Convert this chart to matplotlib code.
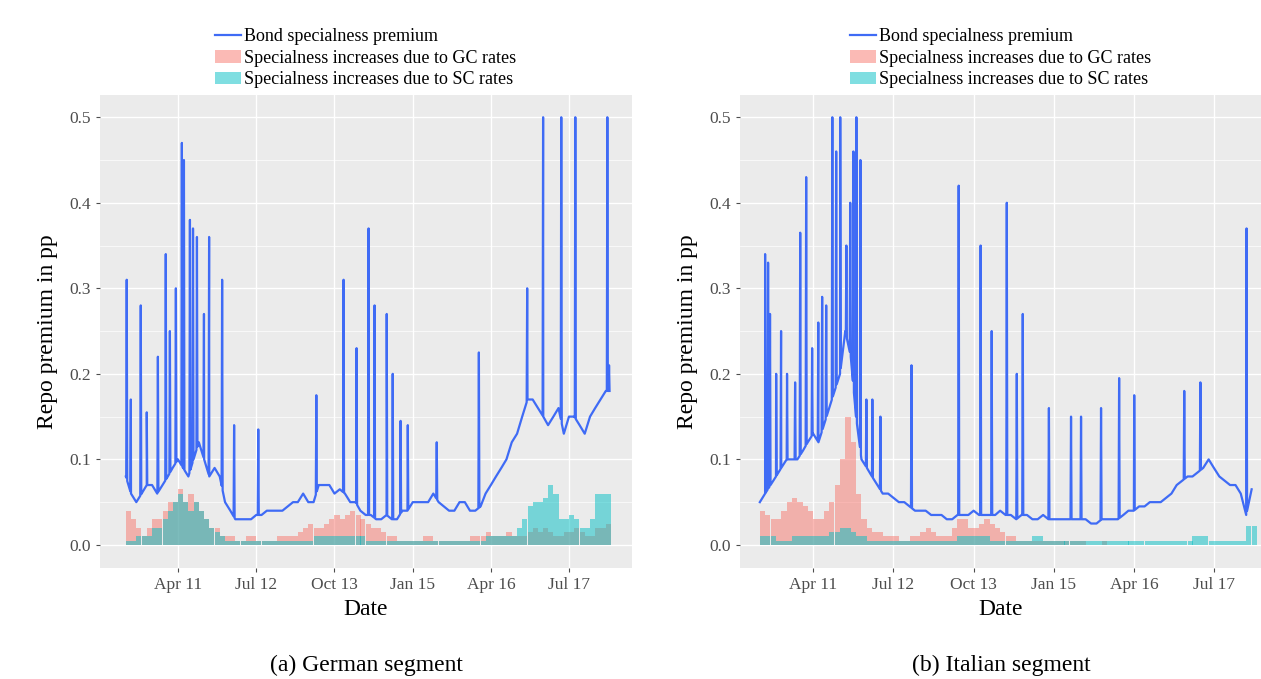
import matplotlib.pyplot as plt
import matplotlib.dates as mdates
import numpy as np
import pandas as pd

plt.rcParams['font.family'] = ['Liberation Serif', 'DejaVu Serif']

LINE = '#3F6BF5'
GC = '#F8766D'
SC = '#00BFC4'

# ---- German segment ----
de_base_months = pd.date_range('2010-06-01', '2018-02-01', freq='MS')
de_base = [0.08, 0.06, 0.05, 0.06, 0.07, 0.07, 0.06,
           0.07, 0.08, 0.09, 0.10, 0.09, 0.08, 0.10, 0.12, 0.10, 0.08, 0.09, 0.08,
           0.05, 0.04, 0.03, 0.03, 0.03, 0.03, 0.035, 0.035, 0.04, 0.04, 0.04, 0.04,
           0.045, 0.05, 0.05, 0.06, 0.05, 0.05, 0.07, 0.07, 0.07, 0.06, 0.065, 0.06,
           0.05, 0.05, 0.04, 0.035, 0.035, 0.03, 0.03, 0.035, 0.03, 0.03, 0.04, 0.04,
           0.05, 0.05, 0.05, 0.05, 0.06, 0.05, 0.045, 0.04, 0.04, 0.05, 0.05, 0.04,
           0.04, 0.045, 0.06, 0.07, 0.08, 0.09, 0.10, 0.12, 0.13, 0.15, 0.17, 0.17,
           0.16, 0.15, 0.14, 0.15, 0.16, 0.13, 0.15, 0.15, 0.14, 0.13, 0.15, 0.16,
           0.17, 0.18]
de_spike_dates = ['2010-06-06', '2010-06-30', '2010-08-27', '2010-10-01', '2010-12-05',
                  '2011-01-20', '2011-02-13', '2011-03-20', '2011-04-24', '2011-05-06',
                  '2011-06-10', '2011-06-28', '2011-07-21', '2011-08-31', '2011-09-30',
                  '2011-12-15', '2012-02-23', '2012-07-13', '2013-06-17', '2013-11-23',
                  '2014-02-07', '2014-04-18', '2014-05-23', '2014-08-02', '2014-09-06',
                  '2014-10-22', '2014-12-03', '2015-05-21', '2016-01-22', '2016-10-30',
                  '2017-01-31', '2017-05-17', '2017-08-07', '2018-02-10', '2018-02-20']
de_spike_vals = [0.31, 0.17, 0.28, 0.155, 0.22, 0.34, 0.25, 0.30, 0.47, 0.45,
                 0.38, 0.37, 0.36, 0.27, 0.36, 0.31, 0.14, 0.135, 0.175, 0.31,
                 0.23, 0.37, 0.28, 0.27, 0.20, 0.145, 0.14, 0.12, 0.225, 0.30,
                 0.50, 0.50, 0.50, 0.50, 0.21]
de_gc = [0.04, 0.03, 0.02, 0.01, 0.02, 0.03, 0.03,
         0.04, 0.05, 0.05, 0.065, 0.05, 0.06, 0.05, 0.04, 0.03, 0.02, 0.02, 0.01,
         0.01, 0.01, 0.005, 0.005, 0.01, 0.01, 0.005, 0.005, 0.005, 0.005, 0.01, 0.01,
         0.01, 0.01, 0.015, 0.02, 0.025, 0.02, 0.02, 0.025, 0.03, 0.035, 0.03, 0.035,
         0.04, 0.035, 0.03, 0.025, 0.02, 0.02, 0.015, 0.01, 0.01, 0.005, 0.005, 0.005,
         0.005, 0.005, 0.01, 0.01, 0.005, 0.005, 0.005, 0.005, 0.005, 0.005, 0.005, 0.01,
         0.01, 0.01, 0.015, 0.01, 0.01, 0.01, 0.015, 0.01, 0.01, 0.01, 0.015, 0.02,
         0.015, 0.02, 0.015, 0.01, 0.01, 0.015, 0.015, 0.02, 0.015, 0.01, 0.01, 0.02,
         0.02, 0.025]
de_sc = [0.005, 0.005, 0.01, 0.01, 0.01, 0.02, 0.02,
         0.03, 0.04, 0.05, 0.06, 0.05, 0.04, 0.05, 0.04, 0.03, 0.02, 0.015, 0.01,
         0.005, 0.005, 0.005, 0.005, 0.005, 0.005, 0.005, 0.005, 0.005, 0.005, 0.005, 0.005,
         0.005, 0.005, 0.005, 0.005, 0.005, 0.01, 0.01, 0.01, 0.01, 0.01, 0.01, 0.01,
         0.01, 0.01, 0.01, 0.005, 0.005, 0.005, 0.005, 0.005, 0.005, 0.005, 0.005, 0.005,
         0.005, 0.005, 0.005, 0.005, 0.005, 0.005, 0.005, 0.005, 0.005, 0.005, 0.005, 0.005,
         0.005, 0.005, 0.01, 0.01, 0.01, 0.01, 0.01, 0.01, 0.02, 0.03, 0.045, 0.05,
         0.05, 0.055, 0.07, 0.06, 0.03, 0.03, 0.035, 0.03, 0.02, 0.02, 0.03, 0.06,
         0.06, 0.06]

# ---- Italian segment ----
it_base_months = pd.date_range('2010-06-01', '2018-02-01', freq='MS')
it_base = [0.05, 0.06, 0.07, 0.08, 0.09, 0.10, 0.10,
           0.10, 0.11, 0.12, 0.13, 0.12, 0.14, 0.16, 0.18, 0.20, 0.25, 0.22, 0.15,
           0.10, 0.09, 0.08, 0.07, 0.06, 0.06, 0.055, 0.05, 0.05, 0.045, 0.04, 0.04,
           0.04, 0.035, 0.035, 0.035, 0.03, 0.03, 0.035, 0.035, 0.035, 0.04, 0.035, 0.035,
           0.035, 0.035, 0.04, 0.035, 0.035, 0.03, 0.035, 0.035, 0.03, 0.03, 0.035, 0.03,
           0.03, 0.03, 0.03, 0.03, 0.03, 0.03, 0.03, 0.025, 0.025, 0.03, 0.03, 0.03,
           0.03, 0.035, 0.04, 0.04, 0.045, 0.045, 0.05, 0.05, 0.05, 0.055, 0.06, 0.07,
           0.075, 0.08, 0.08, 0.085, 0.09, 0.10, 0.09, 0.08, 0.075, 0.07, 0.07, 0.06,
           0.035, 0.065]
it_spike_dates = ['2010-07-01', '2010-07-18', '2010-07-29', '2010-09-02', '2010-09-30',
                  '2010-11-03', '2010-12-19', '2011-01-17', '2011-02-20', '2011-03-26',
                  '2011-04-30', '2011-05-22', '2011-06-14', '2011-07-19', '2011-08-10',
                  '2011-09-02', '2011-10-07', '2011-10-29', '2011-11-16', '2011-12-03',
                  '2011-12-26', '2012-01-29', '2012-03-03', '2012-04-18', '2012-10-12',
                  '2013-07-08', '2013-11-10', '2014-01-12', '2014-04-08', '2014-06-04',
                  '2014-07-08', '2014-12-04', '2015-04-09', '2015-06-05', '2015-09-27',
                  '2016-01-08', '2016-04-03', '2017-01-13', '2017-04-15', '2018-01-03']
it_spike_vals = [0.34, 0.33, 0.27, 0.20, 0.25, 0.20, 0.19, 0.365, 0.43, 0.23,
                 0.26, 0.29, 0.28, 0.50, 0.46, 0.50, 0.35, 0.40, 0.46, 0.50,
                 0.45, 0.17, 0.17, 0.15, 0.21, 0.42, 0.35, 0.25, 0.40, 0.20,
                 0.27, 0.16, 0.15, 0.15, 0.16, 0.195, 0.175, 0.18, 0.19, 0.37]
it_gc = [0.04, 0.035, 0.03, 0.03, 0.04, 0.05, 0.055,
         0.05, 0.045, 0.04, 0.03, 0.03, 0.04, 0.05, 0.07, 0.10, 0.15, 0.12, 0.06,
         0.03, 0.02, 0.015, 0.015, 0.01, 0.01, 0.01, 0.005, 0.005, 0.01, 0.01, 0.015,
         0.02, 0.015, 0.01, 0.01, 0.01, 0.02, 0.03, 0.03, 0.02, 0.02, 0.025, 0.03,
         0.025, 0.02, 0.015, 0.01, 0.01, 0.005, 0.005, 0.005, 0.005, 0.005, 0.005, 0.005,
         0.005, 0.005, 0.005, 0.005, 0.005, 0.005, 0.0, 0.0, 0.0, 0.005, 0.0, 0.0,
         0.0, 0.0, 0.0, 0.0, 0.0, 0.0, 0.0, 0.0, 0.0, 0.0, 0.0, 0.0,
         0.0, 0.0, 0.0, 0.0, 0.0, 0.0, 0.0, 0.0, 0.0, 0.0, 0.0, 0.0,
         0.0, 0.0]
it_sc = [0.01, 0.01, 0.01, 0.005, 0.005, 0.005, 0.01,
         0.01, 0.01, 0.01, 0.01, 0.01, 0.01, 0.015, 0.015, 0.02, 0.02, 0.015, 0.01,
         0.01, 0.005, 0.005, 0.005, 0.005, 0.005, 0.005, 0.005, 0.005, 0.005, 0.005, 0.005,
         0.005, 0.005, 0.005, 0.005, 0.005, 0.005, 0.01, 0.01, 0.01, 0.01, 0.01, 0.01,
         0.005, 0.005, 0.005, 0.005, 0.005, 0.005, 0.005, 0.005, 0.01, 0.01, 0.005, 0.005,
         0.005, 0.005, 0.005, 0.005, 0.005, 0.005, 0.005, 0.005, 0.005, 0.005, 0.005, 0.005,
         0.005, 0.005, 0.005, 0.005, 0.005, 0.005, 0.005, 0.005, 0.005, 0.005, 0.005, 0.005,
         0.005, 0.005, 0.01, 0.01, 0.01, 0.005, 0.005, 0.005, 0.005, 0.005, 0.005, 0.005,
         0.022, 0.022]


def build_line(months, base, sdates, svals):
    sd = pd.to_datetime(sdates)
    bx = mdates.date2num(months)
    pts = list(zip(bx, base))
    for d, v in zip(sd, svals):
        c = mdates.date2num(d)
        for off, val in ((-3, None), (0, v), (3, None)):
            x = c + off
            pts.append((x, np.interp(x, bx, base) if val is None else val))
    pts.sort()
    return [p[0] for p in pts], [p[1] for p in pts]


def panel(ax, months, base, sdates, svals, gc, sc, xlim, caption):
    ax.set_facecolor('#EBEBEB')
    ax.grid(True, color='white', linewidth=1.0)
    ax.grid(True, which='minor', color='white', linewidth=0.5)
    ax.set_axisbelow(True)
    for s in ax.spines.values():
        s.set_visible(False)
    x = mdates.date2num(months)
    ax.bar(x, gc, width=30, align='edge', color=GC, alpha=0.5, linewidth=0,
           label='Specialness increases due to GC rates')
    ax.bar(x, sc, width=30, align='edge', color=SC, alpha=0.5, linewidth=0,
           label='Specialness increases due to SC rates')
    lx, ly = build_line(months, base, sdates, svals)
    ax.plot(lx, ly, color=LINE, linewidth=1.6, label='Bond specialness premium')
    ax.set_xlim(mdates.date2num(pd.to_datetime(xlim[0])), mdates.date2num(pd.to_datetime(xlim[1])))
    ax.set_ylim(-0.027, 0.526)
    ticks = pd.to_datetime(['2011-04-01', '2012-07-01', '2013-10-01', '2015-01-01',
                            '2016-04-01', '2017-07-01'])
    ax.set_xticks(mdates.date2num(ticks))
    ax.set_xticklabels(['Apr 11', 'Jul 12', 'Oct 13', 'Jan 15', 'Apr 16', 'Jul 17'])
    ax.set_yticks([0.0, 0.1, 0.2, 0.3, 0.4, 0.5])
    ax.set_yticks([0.05, 0.15, 0.25, 0.35, 0.45], minor=True)
    ax.tick_params(axis='both', labelsize=12.5, colors='#4D4D4D', length=3)
    ax.tick_params(which='minor', length=0)
    ax.set_xlabel('Date', fontsize=17, labelpad=4)
    ax.set_ylabel('Repo premium in pp', fontsize=17, labelpad=8)
    h, l = ax.get_legend_handles_labels()
    ax.legend(h, l, loc='lower center',
              bbox_to_anchor=(0.5, 0.995), frameon=False, fontsize=13,
              handlelength=1.4, handletextpad=0.2, labelspacing=0.25,
              borderpad=0.0)
    ax.text(0.5, -0.205, caption, transform=ax.transAxes, ha='center', va='center',
            fontsize=17)


fig = plt.figure(figsize=(12.61, 6.79), dpi=100)
ax1 = fig.add_axes([100 / 1261, 1 - 568 / 679, 532 / 1261, 473 / 679])
ax2 = fig.add_axes([740 / 1261, 1 - 568 / 679, 522 / 1261, 473 / 679])
panel(ax1, de_base_months, de_base, de_spike_dates, de_spike_vals, de_gc, de_sc,
      ('2010-01-01', '2018-07-04'), '(a) German segment')
panel(ax2, it_base_months, it_base, it_spike_dates, it_spike_vals, it_gc, it_sc,
      ('2010-02-08', '2018-04-01'), '(b) Italian segment')
fig.savefig('out.png', dpi=100)
